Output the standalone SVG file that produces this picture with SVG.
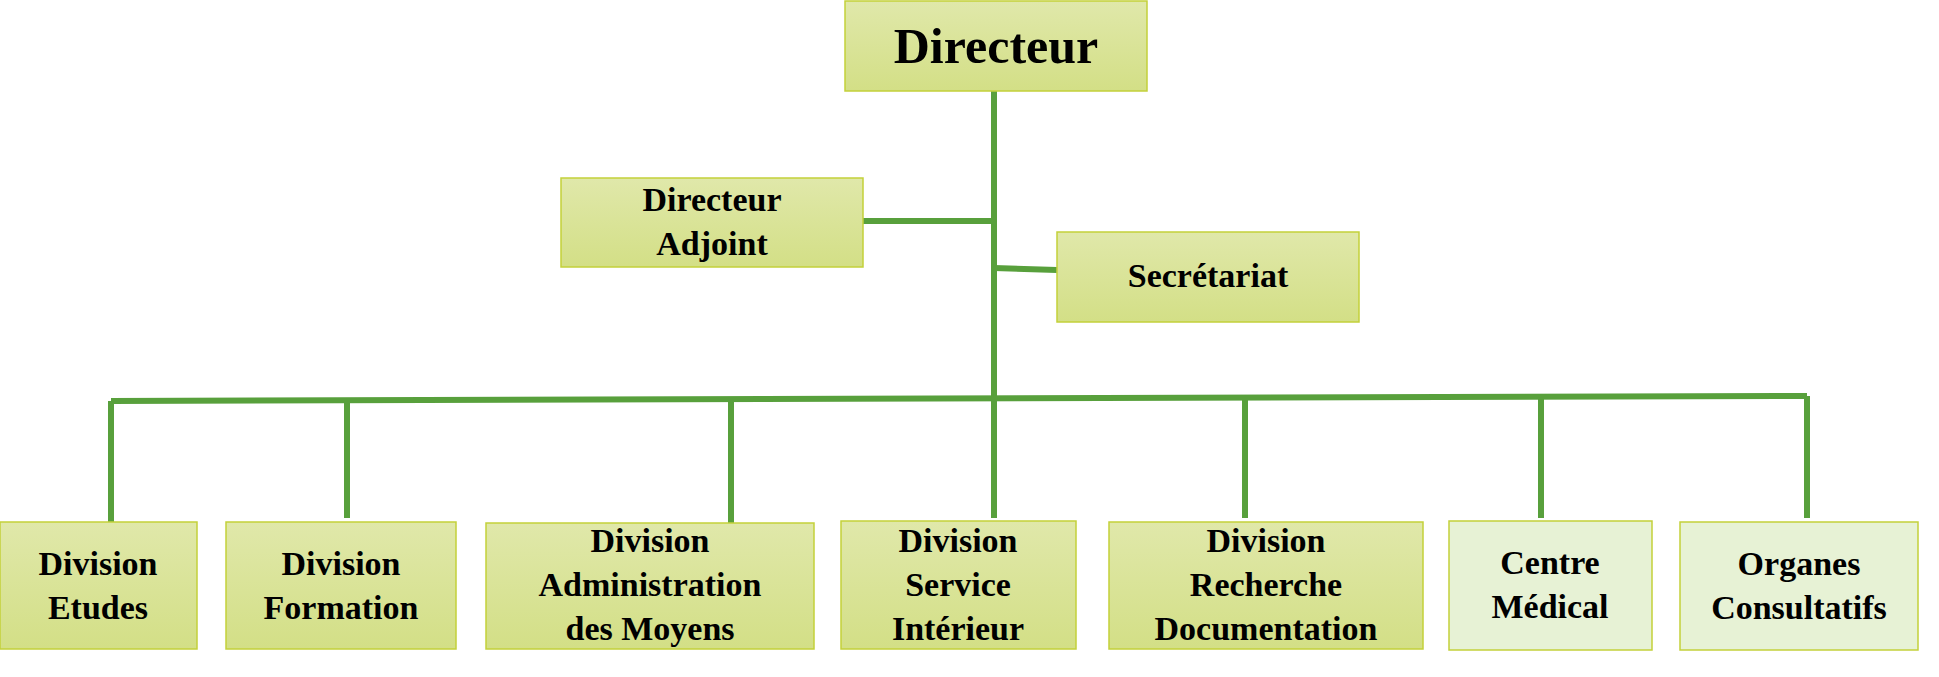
<svg xmlns="http://www.w3.org/2000/svg" width="1939" height="677" viewBox="0 0 1939 677">
<style>
.b{fill:url(#g);stroke:#c3d13a;stroke-width:1.5}
.l{fill:#e7f2d5;stroke:#c3d13a;stroke-width:1.5}
text{font-family:"Liberation Serif",serif;font-weight:bold;font-size:34px;fill:#000;text-anchor:middle}
.c line{stroke:#58a03c;stroke-width:6}
</style>
<defs><linearGradient id="g" x1="0" y1="0" x2="0" y2="1"><stop offset="0" stop-color="#e0e8aa"/><stop offset="1" stop-color="#d3df86"/></linearGradient></defs>
<g class="c">
<line x1="994" y1="91" x2="994" y2="400"/>
<line x1="863" y1="221" x2="994" y2="221"/>
<line x1="994" y1="268" x2="1057" y2="270"/>
<line x1="111" y1="401" x2="1807" y2="396"/>
<line x1="111" y1="401" x2="111" y2="523"/>
<line x1="347" y1="399" x2="347" y2="518"/>
<line x1="731" y1="399" x2="731" y2="523"/>
<line x1="994" y1="398" x2="994" y2="518"/>
<line x1="1245" y1="397" x2="1245" y2="518"/>
<line x1="1541" y1="397" x2="1541" y2="518"/>
<line x1="1807" y1="396" x2="1807" y2="518"/>
</g>
<g id="directeur"><rect class="b" x="845" y="1" width="302" height="90"/><text x="996" y="63" style="font-size:50px">Directeur</text></g>
<g id="adjoint"><rect class="b" x="561" y="178" width="302" height="89"/><text x="712" y="211">Directeur</text><text x="712" y="255">Adjoint</text></g>
<g id="secretariat"><rect class="b" x="1057" y="232" width="302" height="90"/><text x="1208" y="287">Secrétariat</text></g>
<g id="etudes"><rect class="b" x="0" y="522" width="197" height="127"/><text x="98" y="575">Division</text><text x="98" y="619">Etudes</text></g>
<g id="formation"><rect class="b" x="226" y="522" width="230" height="127"/><text x="341" y="575">Division</text><text x="341" y="619">Formation</text></g>
<g id="admin"><rect class="b" x="486" y="523" width="328" height="126"/><text x="650" y="552">Division</text><text x="650" y="596">Administration</text><text x="650" y="640">des Moyens</text></g>
<g id="service"><rect class="b" x="841" y="521" width="235" height="128"/><text x="958" y="552">Division</text><text x="958" y="596">Service</text><text x="958" y="640">Intérieur</text></g>
<g id="recherche"><rect class="b" x="1109" y="522" width="314" height="127"/><text x="1266" y="552">Division</text><text x="1266" y="596">Recherche</text><text x="1266" y="640">Documentation</text></g>
<g id="centre"><rect class="l" x="1449" y="521" width="203" height="129"/><text x="1550" y="574">Centre</text><text x="1550" y="618">Médical</text></g>
<g id="organes"><rect class="l" x="1680" y="522" width="238" height="128"/><text x="1799" y="575">Organes</text><text x="1799" y="619">Consultatifs</text></g>
</svg>
